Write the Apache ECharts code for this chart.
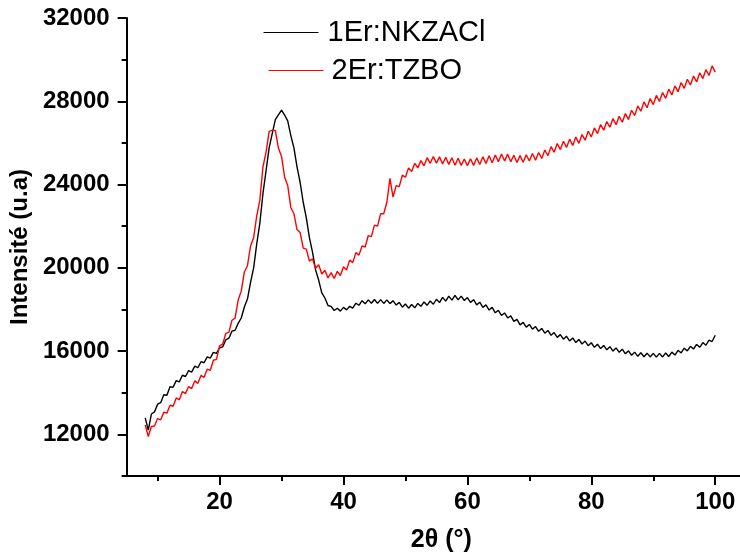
<!DOCTYPE html>
<html>
<head>
<meta charset="utf-8">
<script src="https://cdn.jsdelivr.net/npm/echarts@6/dist/echarts.min.js"></script>
<style>
html,body{margin:0;padding:0;background:#fff;}
#chart{width:740px;height:559px;}
</style>
</head>
<body>
<div id="chart"></div>
<script>
// 2θ (degrees)
const theta = [8,8.5,9,9.5,10,10.5,11,11.5,12,12.5,13,13.5,14,14.5,15,15.5,16,16.5,17,17.5,18,18.5,19,19.5,20,20.5,21,21.5,22,22.5,23,23.5,24,24.5,25,25.5,26,26.5,27,27.5,28,28.5,29,29.5,30,30.5,31,31.5,32,32.5,33,33.5,34,34.5,35,35.5,36,36.5,37,37.5,38,38.5,39,39.5,40,40.5,41,41.5,42,42.5,43,43.5,44,44.5,45,45.5,46,46.5,47,47.5,48,48.5,49,49.5,50,50.5,51,51.5,52,52.5,53,53.5,54,54.5,55,55.5,56,56.5,57,57.5,58,58.5,59,59.5,60,60.5,61,61.5,62,62.5,63,63.5,64,64.5,65,65.5,66,66.5,67,67.5,68,68.5,69,69.5,70,70.5,71,71.5,72,72.5,73,73.5,74,74.5,75,75.5,76,76.5,77,77.5,78,78.5,79,79.5,80,80.5,81,81.5,82,82.5,83,83.5,84,84.5,85,85.5,86,86.5,87,87.5,88,88.5,89,89.5,90,90.5,91,91.5,92,92.5,93,93.5,94,94.5,95,95.5,96,96.5,97,97.5,98,98.5,99,99.5,100];

// 1Er:NKZACl intensity
const nkzacl = [12790,12200,12980,13080,13450,13520,13900,13880,14290,14260,14580,14520,14840,14780,15060,14990,15280,15200,15490,15440,15720,15660,15940,15890,16160,16200,16540,16620,16960,17000,17330,17590,18120,18500,19300,20000,21150,22150,23560,24650,25760,26450,27120,27350,27580,27340,27060,26350,25760,24850,24110,23150,22400,21450,20750,19900,19400,18800,18550,18190,18150,17950,18060,17920,18100,17980,18150,18060,18300,18200,18420,18270,18460,18300,18480,18290,18470,18290,18460,18280,18420,18210,18340,18110,18260,18060,18240,18080,18290,18150,18360,18200,18410,18250,18490,18330,18580,18400,18640,18450,18680,18460,18640,18430,18570,18340,18470,18220,18350,18100,18220,17970,18100,17840,17960,17710,17830,17590,17690,17430,17520,17260,17380,17150,17280,17050,17180,16950,17090,16860,16990,16760,16890,16660,16790,16570,16710,16490,16630,16410,16560,16340,16480,16260,16400,16180,16330,16120,16270,16060,16210,16000,16150,15940,16090,15870,16010,15800,15950,15750,15920,15730,15900,15720,15890,15710,15890,15720,15910,15740,15950,15810,16040,15910,16140,16010,16230,16100,16320,16180,16410,16280,16530,16460,16760];

// 2Er:TZBO intensity
const tzbo = [12450,11900,12380,12400,12760,12700,13060,13020,13400,13350,13750,13660,14060,13960,14300,14200,14570,14450,14830,14740,15130,15070,15560,15600,16250,16330,16850,16900,17480,17580,18450,18880,19800,20100,21050,21450,22500,23250,24850,25550,26550,26600,26600,25750,25350,24350,23950,22900,22600,21840,21700,20950,20900,20320,20430,19980,20150,19700,19880,19510,19770,19490,19830,19630,20050,19900,20370,20250,20730,20610,21050,21000,21550,21500,22050,22000,22600,22600,23150,24300,23400,23950,23900,24450,24350,24800,24630,25020,24800,25150,24900,25290,25020,25350,25030,25330,24990,25310,24970,25290,24930,25260,24920,25230,24900,25240,24920,25280,24960,25330,25010,25380,25050,25420,25100,25470,25130,25460,25100,25410,25060,25390,25070,25430,25130,25490,25170,25540,25250,25660,25390,25820,25550,25970,25680,26080,25780,26180,25880,26280,25980,26400,26130,26560,26290,26720,26450,26880,26610,27030,26750,27170,26870,27280,26990,27410,27120,27570,27310,27780,27520,27970,27690,28130,27840,28280,27990,28420,28140,28580,28300,28740,28460,28900,28620,29060,28780,29210,28930,29370,29090,29520,29240,29700,29400];

const xMajor = [20,40,60,80,100];
const xMinor = [10,30,50,70,90];
const yMajor = [12000,16000,20000,24000,28000,32000];
const yMinor = [10000,14000,18000,22000,26000,30000];
const seriesNames = ['1Er:NKZACl','2Er:TZBO'];
const seriesColors = ['#000000','#ff0000'];

const font = "'Liberation Sans', Arial, sans-serif";
const s1 = theta.map((t,i)=>[t,nkzacl[i]]);
const s2 = theta.map((t,i)=>[t,tzbo[i]]);

const chart = echarts.init(document.getElementById('chart'), null, {renderer:'canvas'});
const axisLineStyle = {color:'#000', width:2};
function legendCfg(name, left, top, pad){
  return {data:[name], left:left, top:top, padding:0, itemWidth:55, itemHeight:14, itemGap:0,
    itemStyle:{opacity:0}, lineStyle:{width:1},
    textStyle:{fontFamily:font, fontSize:29, color:'#000', padding:[0,0,0,pad]}};
}
chart.setOption({
  animation:false,
  backgroundColor:'#fff',
  grid:{left:126, right:0, top:18, bottom:83, containLabel:false},
  legend:[
    legendCfg(seriesNames[0], 263, 18, 4),
    legendCfg(seriesNames[1], 268, 56, 3)
  ],
  xAxis:[
    {type:'value', min:5, max:104, position:'bottom',
     name:'2θ (°)', nameLocation:'middle', nameGap:52,
     nameTextStyle:{fontFamily:font, fontSize:25, fontWeight:'bold', color:'#000', padding:[0,0,0,16]},
     axisLine:{show:true, onZero:false, lineStyle:axisLineStyle},
     axisTick:{show:true, inside:false, length:9, lineStyle:{color:'#000', width:2}, customValues:xMajor},
     axisLabel:{show:true, margin:14, fontFamily:font, fontSize:24, fontWeight:'bold', color:'#000', customValues:xMajor},
     splitLine:{show:false}},
    {type:'value', min:5, max:104, position:'bottom', offset:0,
     axisLine:{show:false},
     axisTick:{show:true, inside:false, length:5, lineStyle:{color:'#000', width:2}, customValues:xMinor},
     axisLabel:{show:false}, splitLine:{show:false}}
  ],
  yAxis:[
    {type:'value', min:10000, max:32000, position:'left',
     name:'Intensité (u.a)', nameLocation:'middle', nameGap:86, nameRotate:90,
     nameTextStyle:{fontFamily:font, fontSize:24, fontWeight:'bold', color:'#000'},
     axisLine:{show:true, onZero:false, lineStyle:axisLineStyle},
     axisTick:{show:true, inside:false, length:9, lineStyle:{color:'#000', width:2}, customValues:yMajor},
     axisLabel:{show:true, margin:17, fontFamily:font, fontSize:24, fontWeight:'bold', color:'#000', customValues:yMajor,
       formatter:function(v){return String(v);}},
     splitLine:{show:false}},
    {type:'value', min:10000, max:32000, position:'left', offset:0,
     axisLine:{show:false},
     axisTick:{show:true, inside:false, length:5, lineStyle:{color:'#000', width:2}, customValues:yMinor},
     axisLabel:{show:false}, splitLine:{show:false}}
  ],
  series:[
    {name:seriesNames[0], type:'line', data:s1, xAxisIndex:0, yAxisIndex:0, showSymbol:false, symbol:'none',
     lineStyle:{color:seriesColors[0], width:1.4}, itemStyle:{color:seriesColors[0]}},
    {name:seriesNames[1], type:'line', data:s2, xAxisIndex:0, yAxisIndex:0, showSymbol:false, symbol:'none',
     lineStyle:{color:seriesColors[1], width:1.4}, itemStyle:{color:seriesColors[1]}}
  ]
});
</script>
</body>
</html>
